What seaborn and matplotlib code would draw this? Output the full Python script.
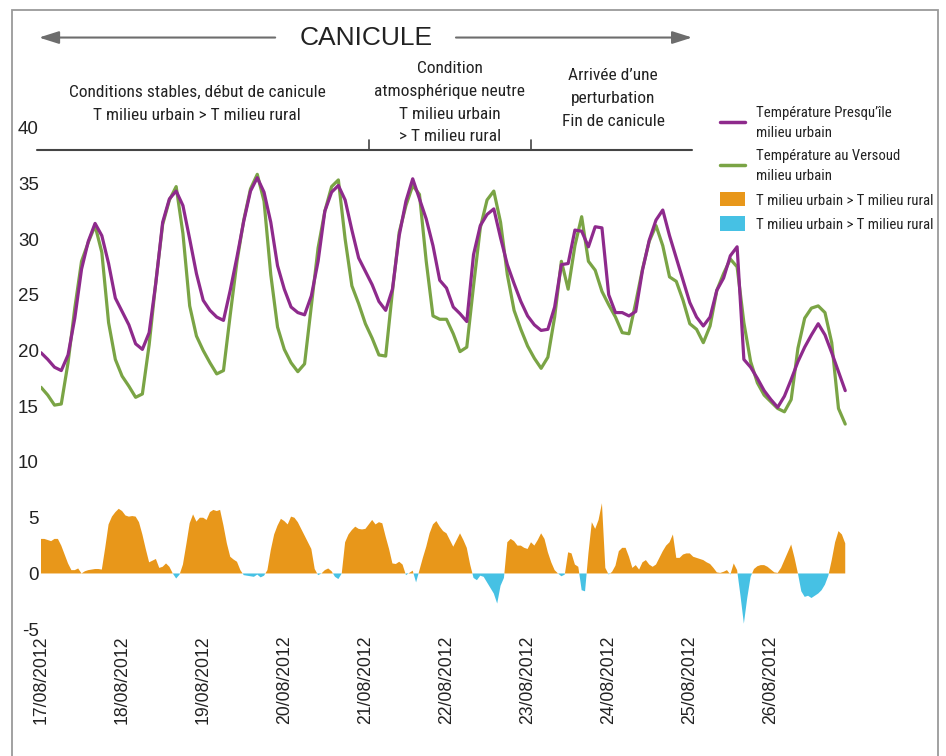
import numpy as np
import pandas as pd
import matplotlib.pyplot as plt
import seaborn as sns
from matplotlib import font_manager as fm
from matplotlib.lines import Line2D
from matplotlib.patches import Patch, Rectangle

# day labels (one tick every 24 h)
dates = ["17/08/2012", "18/08/2012", "19/08/2012", "20/08/2012", "21/08/2012",
         "22/08/2012", "23/08/2012", "24/08/2012", "25/08/2012", "26/08/2012"]

# temperatures, one value every 2 hours from 17/08 00h
urban = [19.8, 19.2, 18.5, 18.2, 19.6, 22.9, 27.3, 29.8, 31.4, 30.3,
         27.8, 24.7, 23.5, 22.3, 20.6, 20.1, 21.6, 26.1, 31.5, 33.6,
         34.3, 33.0, 30.0, 26.9, 24.5, 23.6, 23.0, 22.7, 25.4, 28.4,
         31.6, 34.3, 35.5, 34.2, 31.5, 27.6, 25.5, 23.9, 23.4, 23.2,
         24.9, 28.0, 32.5, 34.2, 34.8, 33.5, 30.8, 28.3, 27.1, 25.9,
         24.4, 23.6, 25.5, 30.3, 33.4, 35.4, 33.6, 31.8, 29.4, 26.3,
         25.6, 23.9, 23.3, 22.6, 28.6, 31.2, 32.2, 32.7, 30.1, 27.7,
         26.0, 24.4, 23.1, 22.3, 21.8, 21.9, 23.9, 27.7, 27.8, 30.8,
         30.7, 29.3, 31.1, 31.0, 25.0, 23.4, 23.4, 23.1, 23.5, 27.2,
         29.9, 31.7, 32.6, 30.3, 28.3, 26.3, 24.3, 23.0, 22.2, 23.0,
         25.4, 26.5, 28.5, 29.3, 19.2, 18.5, 17.5, 16.4, 15.6, 14.9,
         15.9, 17.4, 19.0, 20.3, 21.4, 22.4, 21.4, 19.8, 18.1, 16.4]

rural = [16.7, 16.0, 15.1, 15.2, 18.9, 23.8, 28.0, 29.7, 31.2, 28.8,
         22.5, 19.2, 17.7, 16.8, 15.8, 16.1, 20.5, 26.2, 31.3, 33.5,
         34.7, 30.5, 24.0, 21.3, 20.0, 18.9, 17.9, 18.2, 23.2, 28.0,
         31.7, 34.5, 35.8, 33.4, 26.8, 22.1, 20.1, 18.9, 18.1, 18.8,
         24.0, 29.2, 32.5, 34.7, 35.3, 30.0, 25.8, 24.2, 22.4, 21.1,
         19.6, 19.5, 25.3, 30.6, 33.0, 34.8, 34.0, 28.0, 23.1, 22.8,
         22.8, 21.5, 19.9, 20.3, 25.8, 31.0, 33.5, 34.3, 31.5, 26.8,
         23.6, 21.9, 20.4, 19.3, 18.4, 19.4, 23.0, 28.0, 25.5, 29.4,
         32.0, 28.0, 27.2, 25.3, 24.1, 23.0, 21.6, 21.5, 24.3, 27.3,
         29.8, 31.2, 29.4, 26.6, 26.2, 24.5, 22.4, 21.9, 20.7, 22.2,
         25.4, 26.9, 28.2, 27.5, 22.5, 19.0, 17.1, 16.0, 15.4, 14.8,
         14.5, 15.6, 20.2, 22.9, 23.8, 24.0, 23.4, 20.7, 14.8, 13.4]

# urban - rural difference, hourly
diff = [3.1, 3.1, 3.0, 2.9, 3.1, 3.1, 2.5, 1.7, 0.9, 0.3,
        0.3, 0.45, 0.0, 0.2, 0.3, 0.35, 0.4, 0.4, 0.35, 2.3,
        4.4, 5.1, 5.5, 5.8, 5.6, 5.2, 5.1, 5.15, 5.1, 4.6,
        3.5, 2.2, 1.0, 1.15, 1.3, 0.5, 0.6, 0.9, 0.6, 0.0,
        -0.45, -0.1, 0.8, 2.6, 4.5, 5.3, 4.65, 5.0, 5.0, 4.8,
        5.5, 5.7, 5.6, 5.7, 4.3, 2.7, 1.5, 1.25, 1.05, 0.3,
        -0.15, -0.2, -0.25, -0.3, -0.1, -0.35, -0.2, 0.3, 2.1, 3.5,
        4.3, 4.9, 4.7, 4.4, 5.1, 5.0, 4.6, 4.0, 3.4, 2.8,
        2.2, 0.4, -0.15, 0.0, 0.3, 0.45, 0.2, -0.3, -0.5, 0.0,
        2.8, 3.5, 3.9, 4.2, 4.0, 3.95, 4.0, 4.4, 4.8, 4.4,
        4.6, 4.5, 3.3, 2.2, 0.9, 0.85, 1.05, 0.8, -0.15, 0.05,
        0.25, -0.8, 0.3, 1.4, 2.4, 3.6, 4.4, 4.7, 4.2, 3.8,
        3.6, 3.0, 2.4, 3.0, 3.6, 3.0, 2.3, 0.8, -0.4, -0.6,
        -0.2, -0.3, -0.8, -1.3, -1.8, -2.7, -1.1, -0.4, 2.8, 3.1,
        2.9, 2.5, 2.5, 2.3, 2.2, 2.8, 2.5, 3.0, 3.6, 3.1,
        1.9, 1.0, 0.3, 0.0, -0.25, -0.1, 1.9, 1.8, 0.8, 0.6,
        -1.5, -1.6, 1.8, 4.6, 4.0, 4.8, 6.3, 0.5, -0.1, 0.15,
        0.7, 2.0, 2.3, 2.3, 1.5, 0.5, 0.75, 0.35, 1.0, 1.2,
        0.8, 0.6, 0.8, 1.4, 2.0, 2.5, 2.8, 3.5, 1.4, 1.4,
        1.7, 1.8, 1.8, 1.5, 1.4, 1.3, 1.2, 1.0, 0.85, 0.5,
        0.1, 0.05, 0.15, 0.3, -0.1, 0.9, 0.3, -2.0, -4.5, -2.2,
        -0.3, 0.4, 0.65, 0.75, 0.75, 0.6, 0.35, 0.1, 0.05, 0.5,
        1.2, 1.9, 2.6, 1.4, 0.0, -1.6, -2.1, -2.0, -2.2, -2.0,
        -1.8, -1.5, -1.0, -0.2, 1.2, 2.8, 3.8, 3.5, 2.7]

PURPLE = '#8e2a8c'
GREEN = '#7aa445'
ORANGE = '#e8971a'
BLUE = '#46c1e4'
TXT = '#222222'

sns.set_style("white")
plt.rcParams['font.family'] = ['Liberation Sans', 'DejaVu Sans']


def narrow_font():
    # the annotations use a condensed sans; take one if the system has it
    names = {f.name for f in fm.fontManager.ttflist}
    for n in ['Liberation Sans Narrow', 'Arial Narrow', 'DejaVu Sans Condensed',
              'Noto Sans Condensed', 'Roboto Condensed', 'Noto Sans SemiCondensed']:
        if n in names:
            return fm.FontProperties(family=n)
    for f in fm.fontManager.ttflist:
        if f.stretch in ('condensed', 'semi-condensed') and f.style == 'normal' \
                and f.weight in (400, 'normal', 'regular') and 'Mono' not in f.name \
                and 'Serif' not in f.name:
            return fm.FontProperties(fname=f.fname)
    return fm.FontProperties(family='Liberation Sans')


NARROW = narrow_font()

df = pd.DataFrame({'hour': np.arange(len(urban)) * 2, 'urbain': urban, 'rural': rural})
hours_diff = np.arange(len(diff))
diff_arr = np.array(diff)

fig = plt.figure(figsize=(9.46, 7.56), dpi=100)
ax = fig.add_axes([41 / 946, 126 / 756, 811 / 946, 620 / 756])

# difference areas
ax.fill_between(hours_diff, diff_arr, 0, where=diff_arr >= 0, interpolate=True, color=ORANGE, lw=0)
ax.fill_between(hours_diff, diff_arr, 0, where=diff_arr <= 0, interpolate=True, color=BLUE, lw=0)

# temperature lines
sns.lineplot(data=df, x='hour', y='rural', color=GREEN, lw=2.3, ax=ax)
sns.lineplot(data=df, x='hour', y='urbain', color=PURPLE, lw=2.3, ax=ax)

ax.set_xlim(0, 240)
ax.set_ylim(-5.07, 50.54)
ax.set_xlabel('')
ax.set_ylabel('')
ax.set_xticks(np.arange(len(dates)) * 24)
ax.set_xticklabels(dates, rotation=90, fontsize=12.7, color=TXT)
ax.set_yticks(np.arange(-5, 41, 5))
ax.set_yticklabels([str(v) for v in range(-5, 41, 5)], fontsize=13.5, color=TXT)
ax.tick_params(axis='x', length=0, pad=4)
ax.tick_params(axis='y', length=0, pad=1.5)
for s in ax.spines.values():
    s.set_visible(False)

# CANICULE header with arrows
arrow_kw = dict(arrowstyle='-|>,head_length=1.2,head_width=0.38', color='#6d6d6d',
                lw=1.5, shrinkA=0, shrinkB=0, mutation_scale=10)
ax.annotate('', xy=(-0.6, 48.07), xytext=(69.3, 48.07), arrowprops=arrow_kw, annotation_clip=False)
ax.annotate('', xy=(192.7, 48.07), xytext=(122.8, 48.07), arrowprops=arrow_kw, annotation_clip=False)
ax.text(96.2, 48.07, 'CANICULE', ha='center', va='center', fontsize=19, color=TXT)

# period bar
ax.plot([-1.2, 192.7], [37.98, 37.98], color='#444444', lw=1.5, clip_on=False)
for xb in [97.1, 145.0]:
    ax.plot([xb, xb], [37.98, 38.9], color='#444444', lw=1.2, clip_on=False)

blocks = [
    (46.2, 42.1, 'Conditions stables, début de canicule\nT milieu urbain > T milieu rural'),
    (121.0, 42.2, 'Condition\natmosphérique neutre\nT milieu urbain\n> T milieu rural'),
    (169.3, 42.6, 'Arrivée d’une\nperturbation\nFin de canicule'),
]
block_txt = []
for bx, by, s in blocks:
    t = ax.text(bx, by, s, ha='center', va='center', fontproperties=NARROW, color=TXT)
    t.set_fontsize(13)
    block_txt.append(t)

# legend
handles = [Line2D([], [], color=PURPLE, lw=2.5),
           Line2D([], [], color=GREEN, lw=2.5),
           Patch(color=ORANGE, lw=0),
           Patch(color=BLUE, lw=0)]
labels = ['Température Presqu’île\nmilieu urbain',
          'Température au Versoud\nmilieu urbain',
          'T milieu urbain > T milieu rural',
          'T milieu urbain > T milieu rural']
leg_prop = NARROW.copy()
leg_prop.set_size(11.5)
leg = fig.legend(handles, labels, loc='upper left', bbox_to_anchor=(712 / 946, 1 - 98 / 756),
                 frameon=False, handlelength=1.55, handleheight=1.0, handletextpad=0.7,
                 labelspacing=0.55, borderpad=0, prop=leg_prop)
for t in leg.get_texts():
    t.set_color(TXT)

# match the narrow lettering of the original: widths first, then line pitch
rend = fig.canvas.get_renderer()


def fit_text(texts, ref, target_w, pitch):
    w = ref.get_window_extent(rend).width
    size = ref.get_fontsize() * target_w / w
    for t in texts:
        t.set_fontsize(size)
    # matplotlib steps lines by linespacing * ascent (accents make it taller)
    _, h, d = rend.get_text_width_height_descent('lp', ref.get_fontproperties(), ismath=False)
    for t in texts:
        t.set_linespacing(pitch / (h - d))


fit_text(block_txt, block_txt[0], 255, 22 * 0.894)
fit_text(leg.get_texts(), leg.get_texts()[2], 176, 19 * 0.905)

# outer frame
fig.add_artist(Rectangle((12 / 946, -0.02), 926 / 946, 746 / 756 + 0.02, fill=False,
                         ec='#9a9a9a', lw=1.3, transform=fig.transFigure))

fig.savefig('out.png', dpi=100)
